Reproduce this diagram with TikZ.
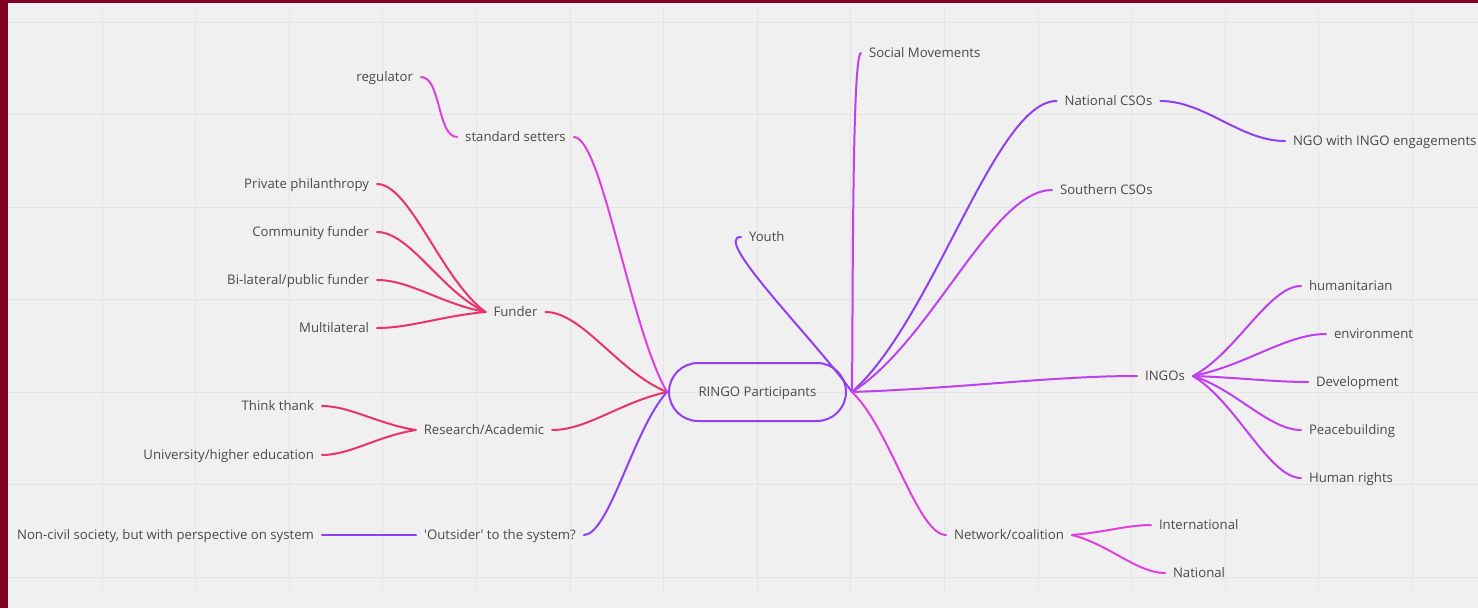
\documentclass[tikz,border=0pt]{standalone}
\usepackage{fontspec}
\setmainfont{Open Sans}
\definecolor{frame}{HTML}{820024}
\definecolor{paper}{HTML}{F0F0F0}
\definecolor{gridc}{HTML}{E4E4E4}
\definecolor{ink}{HTML}{4A4A4A}
\definecolor{cRose}{HTML}{E8336F}
\definecolor{cMag}{HTML}{E040E0}
\definecolor{cOrch}{HTML}{C040F0}
\definecolor{cViol}{HTML}{9040F0}
\begin{document}
\begin{tikzpicture}[x=1pt,y=-1pt,
  lbl/.style={font=\fontsize{13.2}{15}\selectfont, text=ink, inner xsep=8pt, inner ysep=2pt,
              text height=9.4pt, text depth=0pt, outer sep=0pt},
  link/.style={line width=2pt, line cap=round},
  rose/.style={link, draw=cRose},
  mag/.style={link, draw=cMag},
  orch/.style={link, draw=cOrch},
  viol/.style={link, draw=cViol}]
% canvas, frame and grid
\useasboundingbox (0,0) rectangle (1478,608);
\fill[frame] (0,0) rectangle (1478,608);
\fill[paper] (8,3) rectangle (1478,608);
\foreach \k in {0,...,14} \draw[gridc, line width=1pt] ({102+93.6*\k},10) -- ({102+93.6*\k},590);
\foreach \k in {0,...,6} \draw[gridc, line width=1pt] (8,{22+92.5*\k}) -- (1478,{22+92.5*\k});

% central topic
\node[font=\fontsize{13.2}{15}\selectfont, text=ink, text height=9.4pt, text depth=0pt,
      draw=cViol, line width=2pt, rounded corners=29pt,
      minimum width=177pt, minimum height=58pt, outer sep=0pt] (ringo) at (757.5,392) {RINGO Participants};
\coordinate (hubL) at ([xshift=-2pt]ringo.west);
\coordinate (hubR) at ([xshift=6pt]ringo.east);

% left branch labels
\node[lbl, anchor=east] (regulator) at (421,77) {regulator};
\node[lbl] (stds) at (515.5,137) {standard setters};
\node[lbl] (funder) at (515.5,312) {Funder};
\node[lbl, anchor=east] (private) at (377,184) {Private philanthropy};
\node[lbl, anchor=east] (community) at (377,232) {Community funder};
\node[lbl, anchor=east] (bilateral) at (377,280) {Bi-lateral/public funder};
\node[lbl, anchor=east] (multi) at (377,328) {Multilateral};
\node[lbl] (research) at (484,430) {Research/Academic};
\node[lbl, anchor=east] (think) at (322,406) {Think thank};
\node[lbl, anchor=east] (univ) at (322,455) {University/higher education};
\node[lbl] (outsider) at (500,535) {\textquotesingle Outsider\textquotesingle{} to the system?};
\node[lbl, anchor=east] (noncivil) at (322,535) {Non-civil society, but with perspective on system};

% right branch labels
\node[lbl, anchor=west] (youth) at (741,237) {Youth};
\node[lbl, anchor=west] (social) at (861,53) {Social Movements};
\node[lbl] (national) at (1108.5,101) {National CSOs};
\node[lbl, anchor=west] (ngo) at (1285,141) {NGO with INGO engagements};
\node[lbl, anchor=west] (southern) at (1052,190) {Southern CSOs};
\node[lbl] (ingos) at (1165,376) {INGOs};
\node[lbl, anchor=west] (human) at (1301,286) {humanitarian};
\node[lbl, anchor=west] (environ) at (1326,334) {environment};
\node[lbl, anchor=west] (devel) at (1308,382) {Development};
\node[lbl, anchor=west] (peace) at (1301,430) {Peacebuilding};
\node[lbl, anchor=west] (rights) at (1301,478) {Human rights};
\node[lbl] (network) at (1009,535) {Network/coalition};
\node[lbl, anchor=west] (intl) at (1151,525) {International};
\node[lbl, anchor=west] (natl) at (1165,573) {National};

% left connectors
\draw[mag] (regulator.east) .. controls +(20,0) and +(-20,0) .. (stds.west);
\draw[mag] (stds.east) .. controls +(28,0) and +(-37,-64) .. (hubL);
\draw[rose] (private.east) .. controls +(33,0) and +(-44,-32) .. (funder.west);
\draw[rose] (community.east) .. controls +(33,0) and +(-44,-20) .. (funder.west);
\draw[rose] (bilateral.east) .. controls +(33,0) and +(-44,-8) .. (funder.west);
\draw[rose] (multi.east) .. controls +(33,0) and +(-44,4) .. (funder.west);
\draw[rose] (funder.east) .. controls +(37,0) and +(-49,-20) .. (hubL);
\draw[rose] (think.east) .. controls +(28,0) and +(-38,-6) .. (research.west);
\draw[rose] (univ.east) .. controls +(28,0) and +(-38,6) .. (research.west);
\draw[rose] (research.east) .. controls +(35,0) and +(-46,10) .. (hubL);
\draw[viol] (noncivil.east) -- (outsider.west);
\draw[viol] (outsider.east) .. controls +(25,0) and +(-33,36) .. (hubL);

% right connectors
\draw[viol] (youth.west) .. controls +(-30,0) and +(-37,-52) .. (hubR);
\draw[orch] (social.west) .. controls +(-9,0) and +(1,-92) .. (hubR);
\draw[viol] (national.west) .. controls +(-61.5,0) and +(82,-73) .. (hubR);
\draw[viol] (ngo.west) .. controls +(-45,0) and +(45,0) .. (national.east);
\draw[orch] (southern.west) .. controls +(-60,0) and +(80,-50.5) .. (hubR);
\draw[orch] (ingos.west) .. controls +(-85.5,0) and +(114,-4) .. (hubR);
\draw[orch] (human.west) .. controls +(-32,0) and +(43,-22.5) .. (ingos.east);
\draw[orch] (environ.west) .. controls +(-40,0) and +(53,-10.5) .. (ingos.east);
\draw[orch] (devel.west) .. controls +(-34.5,0) and +(46,1.5) .. (ingos.east);
\draw[orch] (peace.west) .. controls +(-32,0) and +(43,13.5) .. (ingos.east);
\draw[orch] (rights.west) .. controls +(-32,0) and +(43,25.5) .. (ingos.east);
\draw[mag] (network.west) .. controls +(-28.5,0) and +(38,36) .. (hubR);
\draw[mag] (intl.west) .. controls +(-24,0) and +(32,-2.5) .. (network.east);
\draw[mag] (natl.west) .. controls +(-28,0) and +(37.6,9.5) .. (network.east);
\end{tikzpicture}
\end{document}
